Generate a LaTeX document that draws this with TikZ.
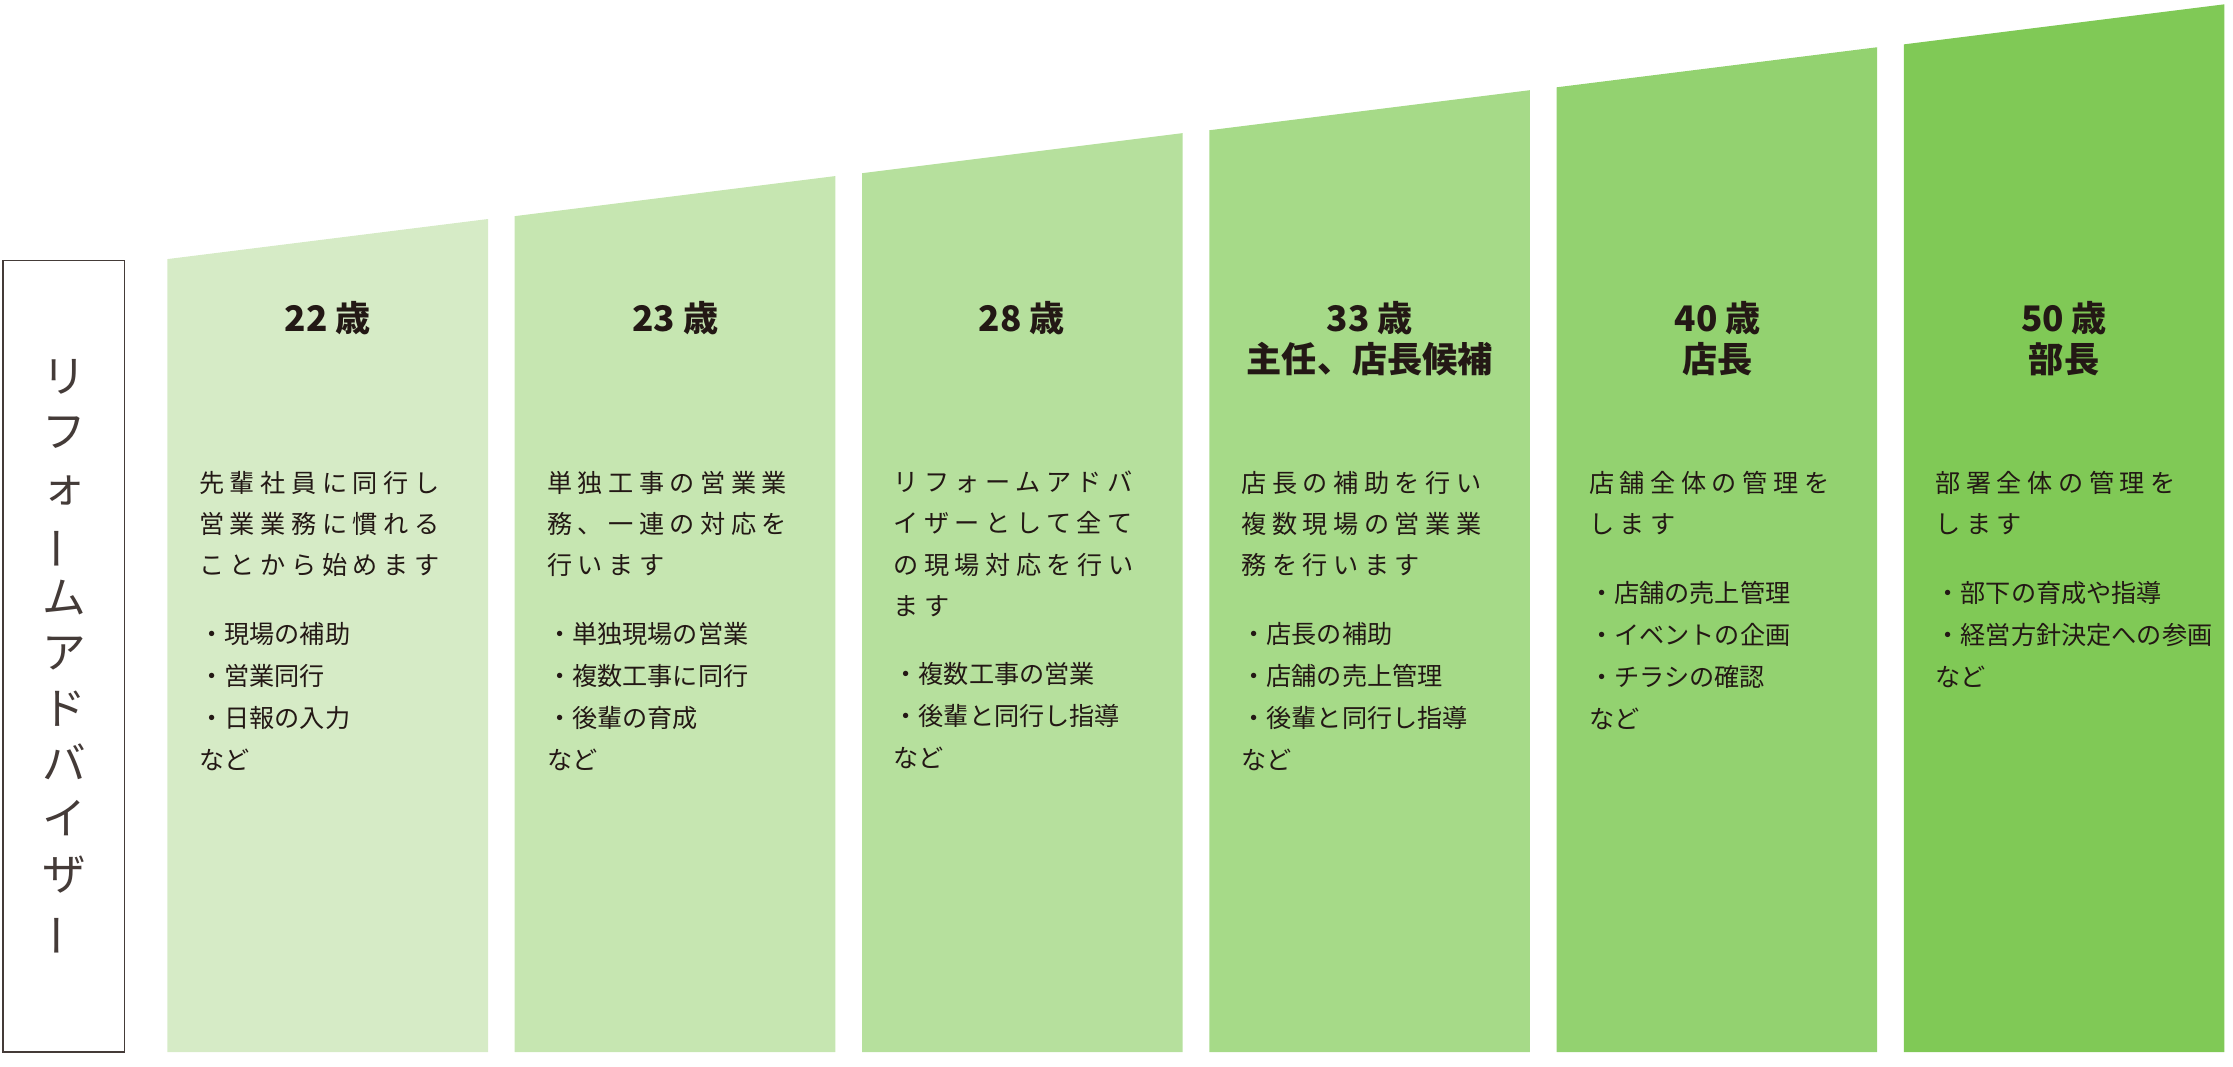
\documentclass[tikz,border=0pt]{standalone}
\usepackage{fontspec}
\usepackage{graphicx}
\setmainfont{Noto Sans CJK JP}
\newfontfamily\jpwide[LetterSpace=22]{Noto Sans CJK JP}
\usetikzlibrary{positioning}
\definecolor{cA}{HTML}{D6EBC6}
\definecolor{cB}{HTML}{C6E6B1}
\definecolor{cC}{HTML}{B6E09D}
\definecolor{cD}{HTML}{A6DA88}
\definecolor{cE}{HTML}{93D270}
\definecolor{cF}{HTML}{80C956}
\definecolor{ink}{HTML}{231815}
\tikzset{
    %Define style for the headings
    age/.style={
           font=\fontsize{21}{27}\selectfont\bfseries,
           text=ink,
           align=center,
           inner sep=0pt},
    %Define style for the texts
    body/.style={
           font=\jpwide\fontsize{15}{24.5}\selectfont,
           text=ink,
           align=left,
           anchor=north west,
           inner sep=0pt},
    items/.style={
           font=\fontsize{15}{25}\selectfont,
           text=ink,
           align=left,
           inner sep=0pt,
           below=0.95cm of #1.south west,
           anchor=north west}
}
\begin{document}
\begin{tikzpicture}[x=0.03cm,y=-0.03cm]
 \useasboundingbox (0,0) rectangle (1560,745);
 %bars
    \foreach \i/\c in {0/cA,1/cB,2/cC,3/cD,4/cE,5/cF}{
      \pgfmathsetmacro\xl{117+242.6*\i}
      \pgfmathsetmacro\yl{181-30*\i}
      \fill[\c] (\xl,735) -- (\xl,\yl) -- (\xl+224,\yl-28) -- (\xl+224,735) -- cycle;
    }
 %left box
    \draw[ink!85, line width=1pt, fill=white] (2,182) rectangle (87,735);
    \node[font=\fontsize{26}{33}\selectfont, text=ink!85, align=center, inner sep=0pt] (title) at (45,460)
      {リ\\フ\\ォ\\\rotatebox[origin=c]{90}{ー}\\ム\\ア\\ド\\バ\\イ\\ザ\\\rotatebox[origin=c]{90}{ー}};
 %headings
    \node[age] (h1) at (229,222) {22 歳};
    \node[age] (h2) at (472,222) {23 歳};
    \node[age] (h3) at (714,222) {28 歳};
    \node[age] (h4) at (957,222) {33 歳};
    \node[age, below=0.15cm of h4] (s4) {主任、店長候補};
    \node[age] (h5) at (1200,222) {40 歳};
    \node[age, below=0.15cm of h5] (s5) {店長};
    \node[age] (h6) at (1442,222) {50 歳};
    \node[age, below=0.15cm of h6] (s6) {部長};
 %texts
    \node[body] (b1) at (139,329) {先輩社員に同行し\\営業業務に慣れる\\ことから始めます};
    \node[items=b1] (l1) {・現場の補助\\・営業同行\\・日報の入力\\など};
    \node[body] (b2) at (382,329) {単独工事の営業業\\務、一連の対応を\\行います};
    \node[items=b2] (l2) {・単独現場の営業\\・複数工事に同行\\・後輩の育成\\など};
    \node[body] (b3) at (624,329) {リフォームアドバ\\イザーとして全て\\の現場対応を行い\\ます};
    \node[items=b3] (l3) {・複数工事の営業\\・後輩と同行し指導\\など};
    \node[body] (b4) at (867,329) {店長の補助を行い\\複数現場の営業業\\務を行います};
    \node[items=b4] (l4) {・店長の補助\\・店舗の売上管理\\・後輩と同行し指導\\など};
    \node[body] (b5) at (1110,329) {店舗全体の管理を\\します};
    \node[items=b5] (l5) {・店舗の売上管理\\・イベントの企画\\・チラシの確認\\など};
    \node[body] (b6) at (1352,329) {部署全体の管理を\\します};
    \node[items=b6] (l6) {・部下の育成や指導\\・経営方針決定への参画\\など};
\end{tikzpicture}
\end{document}
